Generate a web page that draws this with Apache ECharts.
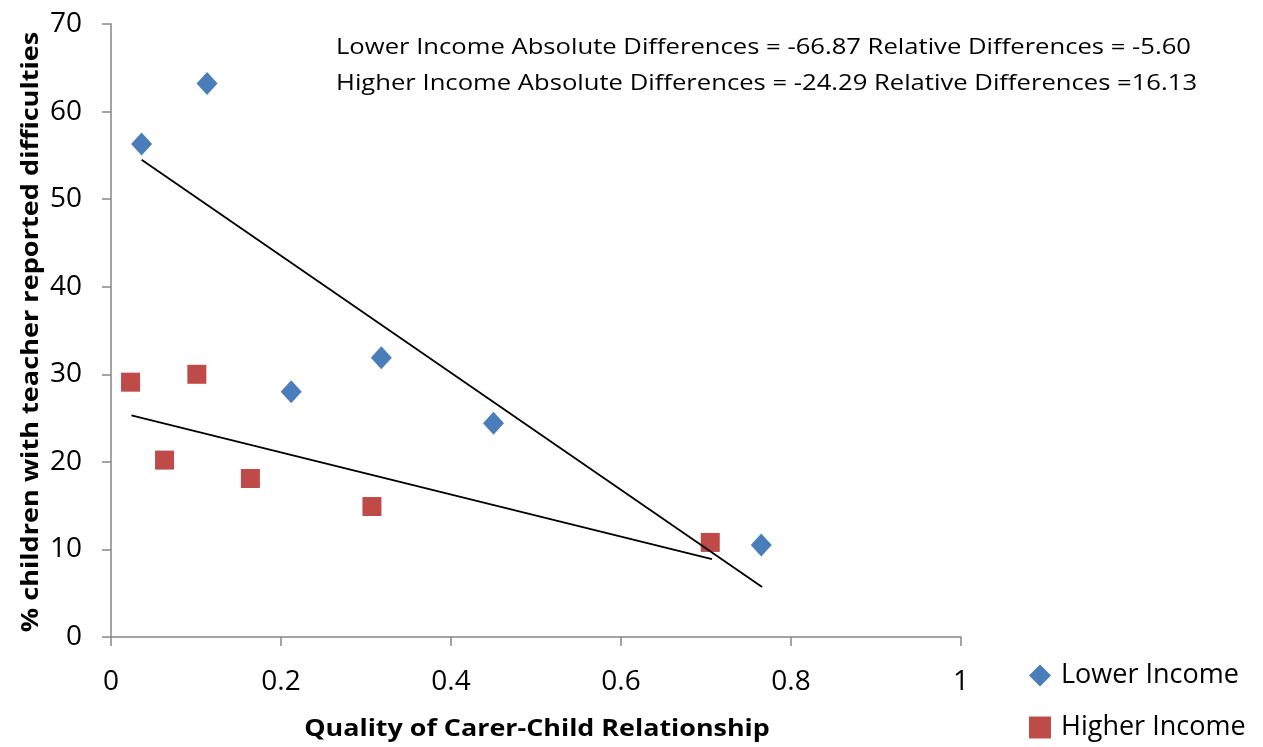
<!DOCTYPE html>
<html>
<head>
<meta charset="utf-8">
<script src="https://cdn.jsdelivr.net/npm/echarts@6/dist/echarts.min.js"></script>
<style>html,body{margin:0;padding:0;background:#fff}#c{width:1263px;height:747px}</style>
</head>
<body>
<div id="c"></div>
<script>
const lowerX = [0.036, 0.113, 0.212, 0.318, 0.450, 0.765];
const lowerY = [56.3, 63.2, 28.0, 31.9, 24.4, 10.5];
const higherX = [0.023, 0.063, 0.101, 0.164, 0.307, 0.705];
const higherY = [29.1, 20.2, 30.0, 18.1, 14.9, 10.8];
const lowerTrendX = [0.036, 0.766];
const lowerTrendY = [54.5, 5.7];
const higherTrendX = [0.024, 0.707];
const higherTrendY = [25.3, 8.9];
const seriesNames = ['Lower Income', 'Higher Income'];
const noteLines = [
  'Lower Income Absolute Differences = -66.87 Relative Differences = -5.60',
  'Higher Income Absolute Differences = -24.29 Relative Differences =16.13'
];
const xTitle = 'Quality of Carer-Child Relationship';
const yTitle = '% children with teacher reported difficulties';

const zip = (xs, ys) => xs.map((x, i) => [x, ys[i]]);
const FONT = '"Open Sans", sans-serif';
const axisColor = '#868686';

const chart = echarts.init(document.getElementById('c'));
chart.setOption({
  animation: false,
  backgroundColor: '#fff',
  grid: { left: 111, right: 302, top: 24, bottom: 110 },
  xAxis: {
    type: 'value', min: 0, max: 1, interval: 0.2,
    axisLine: { show: true, lineStyle: { color: axisColor, width: 1.5 } },
    axisTick: { show: true, length: 9, lineStyle: { color: axisColor, width: 1.5 } },
    axisLabel: { fontFamily: FONT, fontSize: 28, color: '#000', margin: 31 },
    splitLine: { show: false }
  },
  yAxis: {
    type: 'value', min: 0, max: 70, interval: 10,
    axisLine: { show: true, lineStyle: { color: axisColor, width: 1.5 } },
    axisTick: { show: true, length: 9, lineStyle: { color: axisColor, width: 1.5 } },
    axisLabel: { fontFamily: FONT, fontSize: 28, color: '#000', margin: 29 },
    splitLine: { show: false }
  },
  legend: {
    orient: 'vertical', left: 1029, top: 662, itemGap: 25, padding: 0,
    itemWidth: 22, itemHeight: 22,
    textStyle: { fontFamily: FONT, fontSize: 27, color: '#000', padding: [0, 0, 0, 5] },
    data: seriesNames
  },
  graphic: noteLines.map((t, i) => ({
    type: 'text', x: 336, y: 38 + i * 36, scaleX: 1.22,
    style: { text: t, font: '21px "Open Sans", sans-serif', fill: '#000' }
  })).concat([
    { type: 'text', x: 537, y: 729, scaleX: 1.12,
      style: { text: xTitle, font: 'bold 24px "Open Sans", sans-serif', fill: '#000',
               textAlign: 'center', textVerticalAlign: 'middle' } },
    { type: 'text', x: 31, y: 332, rotation: Math.PI / 2, scaleX: 1.13,
      style: { text: yTitle, font: 'bold 24px "Open Sans", sans-serif', fill: '#000',
               textAlign: 'center', textVerticalAlign: 'middle' } }
  ]),
  series: [
    { name: seriesNames[0], type: 'scatter', symbol: 'diamond', symbolSize: [21, 23],
      itemStyle: { color: '#4A7EBB', opacity: 1 }, data: zip(lowerX, lowerY), z: 3 },
    { name: seriesNames[1], type: 'scatter', symbol: 'rect', symbolSize: 19,
      itemStyle: { color: '#BE4B48', opacity: 1 }, data: zip(higherX, higherY), z: 3 },
    { type: 'line', data: zip(lowerTrendX, lowerTrendY), symbol: 'none',
      lineStyle: { color: '#000', width: 1.8 }, z: 4, silent: true },
    { type: 'line', data: zip(higherTrendX, higherTrendY), symbol: 'none',
      lineStyle: { color: '#000', width: 1.8 }, z: 4, silent: true }
  ]
});
</script>
</body>
</html>
